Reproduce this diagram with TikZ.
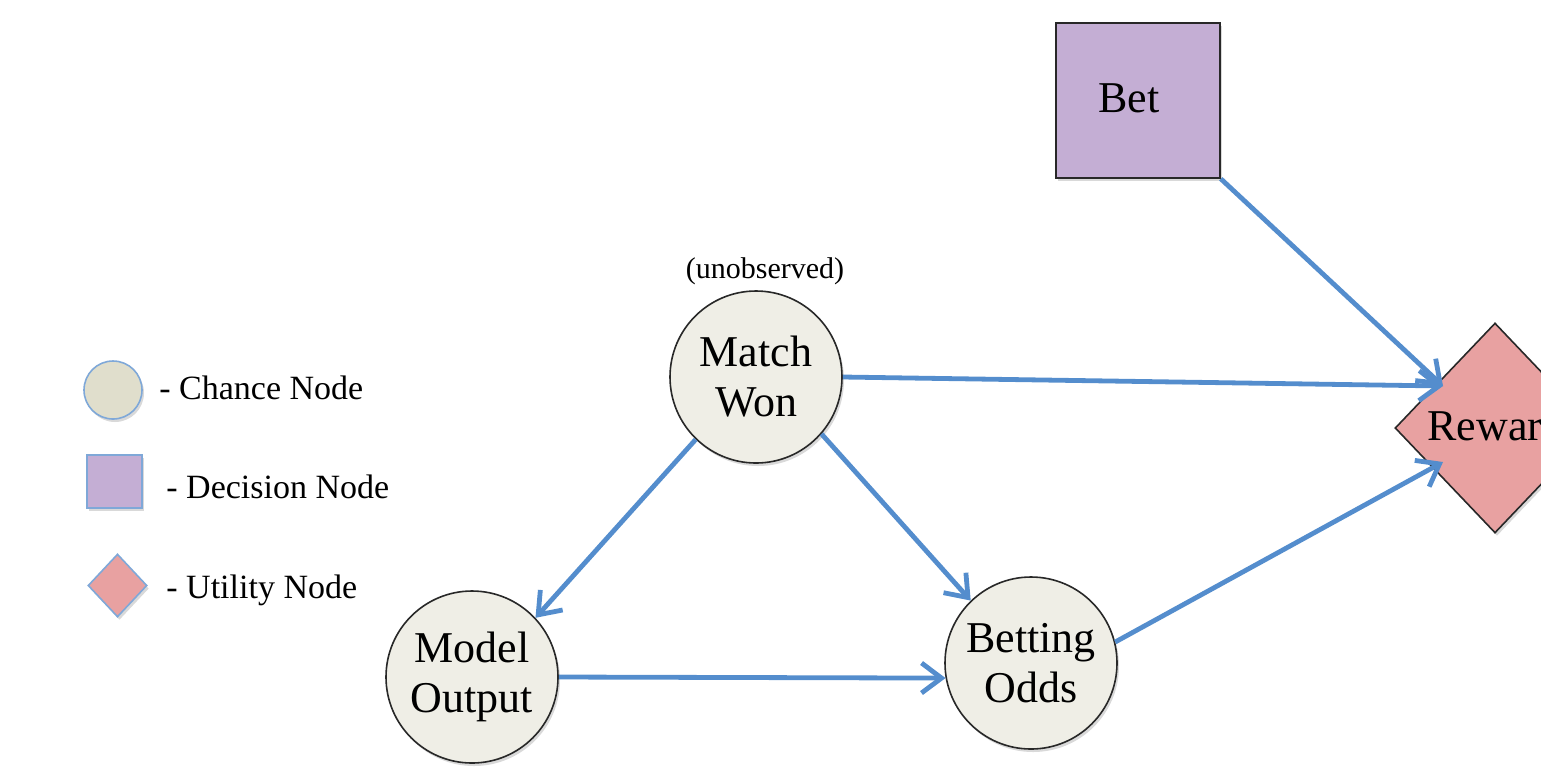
\documentclass[tikz,border=0pt]{standalone}
\usepackage{fontspec}
\setmainfont{Liberation Serif}
\usetikzlibrary{shapes.geometric,arrows.meta,shadows}
\definecolor{chancefill}{RGB}{239,238,230}
\definecolor{legchance}{RGB}{224,222,204}
\definecolor{decfill}{RGB}{196,174,212}
\definecolor{utilfill}{RGB}{232,161,161}
\definecolor{legborder}{RGB}{127,168,216}
\definecolor{arrowblue}{RGB}{84,141,205}
\definecolor{darkborder}{RGB}{40,40,40}
\begin{document}
\begin{tikzpicture}[x=0.5pt,y=-0.5pt,
  shad/.style={drop shadow={shadow xshift=1pt,shadow yshift=-1.5pt,opacity=0.3}},
  chance/.style={circle,draw=darkborder,line width=0.8pt,fill=chancefill,shad,minimum size=86pt,inner sep=0pt,align=center,font=\fontsize{22}{25}\selectfont},
  legchancestyle/.style={circle,draw=legborder,line width=0.8pt,fill=legchance,shad,minimum size=29pt,inner sep=0pt},
  legdec/.style={rectangle,draw=legborder,line width=0.8pt,fill=decfill,shad,minimum width=27.5pt,minimum height=26.5pt,inner sep=0pt},
  legutil/.style={diamond,draw=legborder,line width=0.8pt,fill=utilfill,shad,minimum width=29.5pt,minimum height=31.5pt,inner sep=0pt},
  legtext/.style={anchor=base west,font=\fontsize{17}{20}\selectfont,inner sep=0pt},
  big/.style={font=\fontsize{22}{25}\selectfont,inner sep=0pt},
  conn/.style={draw=arrowblue,line width=2.4pt,-{Straight Barb[length=10pt,width=15pt,line width=2.4pt]}}
]
\useasboundingbox (0,0) rectangle (1541,773);
\clip (0,0) rectangle (1541,773);

% legend
\node[legchancestyle] (lc) at (113,390) {};
\node[legtext] (lct) at (159,399) {- Chance Node};
\node[legdec] (ld) at (114.5,481.5) {};
\node[legtext] (ldt) at (166,498) {- Decision Node};
\node[legutil] (lu) at (117.5,585.5) {};
\node[legtext] (lut) at (166,598) {- Utility Node};

% main nodes
\node[chance] (MW) at (756,377) {Match\\Won};
\node[anchor=base,font=\fontsize{15}{18}\selectfont,inner sep=0pt] (unobs) at (765,278) {(unobserved)};
\node[chance] (MO) at (472,677) {Model\\Output};
\node[chance] (BO) at (1031,663) {Betting\\Odds};
\node[rectangle,draw=darkborder,line width=0.8pt,fill=decfill,shad,minimum width=82pt,minimum height=77.5pt,inner sep=0pt] (bet) at (1138,100.5) {};
\node[big,anchor=base west] (bettext) at (1098,112) {Bet};
\node[diamond,draw=darkborder,line width=0.8pt,fill=utilfill,shad,minimum width=100pt,minimum height=105pt,inner sep=0pt] (R) at (1495,428) {};
\node[big,anchor=base west] (rtext) at (1427,440) {Reward};

\coordinate (r1) at (1443,386);
\coordinate (r2) at (1443,462);

% connectors
\draw[conn] (bet.south east) -- (r1);
\draw[conn] (MW.east) -- (r1);
\draw[conn] (BO.14) -- (r2);
\draw[conn] (MW.226) -- (MO.43);
\draw[conn] (MW.-41) -- (BO.134);
\draw[conn] (MO.east) -- (BO.190);
\end{tikzpicture}
\end{document}
